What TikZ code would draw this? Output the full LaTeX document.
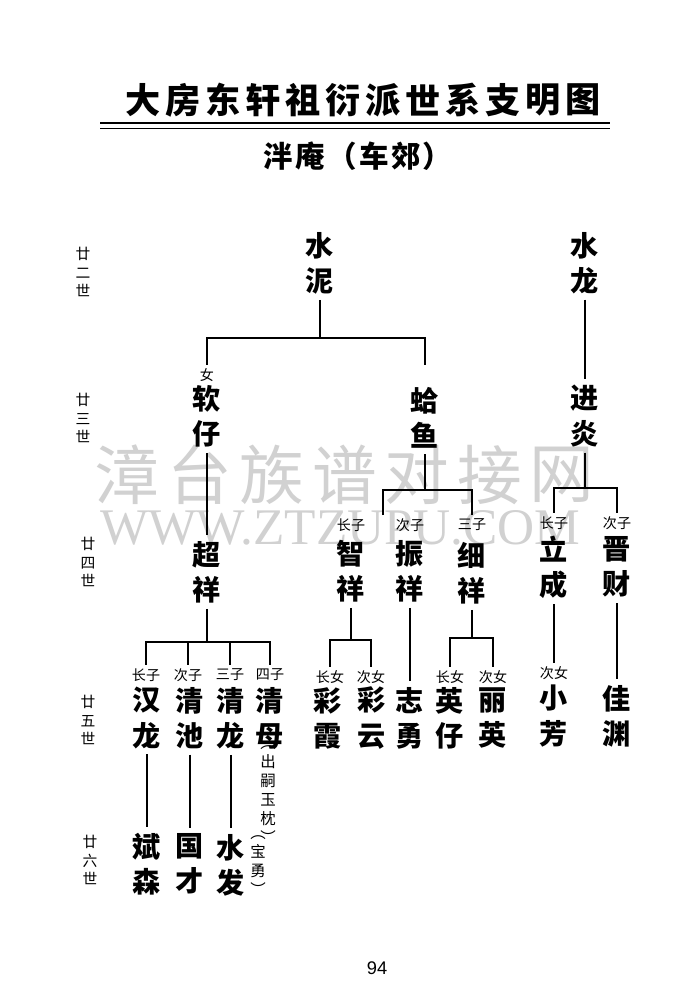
\documentclass[tikz,border=0pt]{standalone}
\usepackage{fontspec}
\setmainfont{Liberation Sans}
\newfontfamily\cjk{Noto Sans CJK SC}
\newfontfamily\wmserif{Liberation Serif}
\usetikzlibrary{positioning}

\begin{document}
\begin{tikzpicture}[
  x=0.025cm, y=-0.025cm,
  person/.style={font=\cjk\bfseries\fontsize{20}{25}\selectfont,
                 align=center, inner sep=4pt},
  rel/.style={font=\cjk\fontsize{10}{12}\selectfont, inner sep=2.5pt},
  gen/.style={font=\cjk\fontsize{10.5}{13}\selectfont, align=center, inner sep=0pt},
  note/.style={font=\cjk\fontsize{11}{13.5}\selectfont, align=center, inner sep=0pt},
  titlechar/.style={font=\cjk\bfseries\fontsize{25}{25}\selectfont, inner sep=0pt},
  link/.style={line width=0.9pt},
  wm/.style={text=black!18, inner sep=0pt}
]
\fill[white] (0,0) rectangle (680,1000);
\useasboundingbox (0,0) rectangle (680,1000);

% watermark
\foreach \ch [count=\i from 0] in {漳,台,族,谱,对,接,网}
  \node[wm, font=\cjk\fontsize{46}{46}\selectfont] (wm\i) at (127+72.5*\i,475) {\ch};
\node[wm, font=\wmserif\fontsize{36.5}{36.5}\selectfont] (wmurl) at (340,528) {WWW.ZTZUPU.COM};

% title
\foreach \ch [count=\i from 0] in {大,房,东,轩,祖,衍,派,世,系,支,明,图}
  \node[titlechar] (title\i) at (143+40*\i,100) {\ch};
\draw[line width=1.5pt] (100,123) -- (610,123);
\draw[line width=0.6pt] (100,128.5) -- (610,128.5);
\node[font=\cjk\bfseries\fontsize{21}{21}\selectfont\addfontfeature{LetterSpace=8}]
  (sub) at (358,156) {泮庵（车郊）};

% generations
\node[gen] (g22) at (83,272) {廿\\二\\世};
\node[gen] (g23) at (83,418) {廿\\三\\世};
\node[gen] (g24) at (88,562) {廿\\四\\世};
\node[gen] (g25) at (88,720) {廿\\五\\世};
\node[gen] (g26) at (90,860) {廿\\六\\世};

% 22 -- 23
\node[person] (shuini) at (320,263) {水\\泥};
\node[person] (shuilong) at (585,263) {水\\龙};
\node[rel] (lnv) at (207,375) {女};
\node[person] (ruanzai) at (207,416) {软\\仔};
\node[person] (geyu) at (425,418) {蛤\\鱼};
\node[person] (jinyan) at (585,416) {进\\炎};

\coordinate (snBar) at (320,338);
\coordinate (geyuTop) at (425,365);
\draw[link] (shuini.south) -- (snBar);
\draw[link] (lnv.north) |- (snBar) -| (geyuTop);
\draw[link] (shuilong.south) -- (jinyan.north);

% 24
\node[person] (chaoxiang) at (207,572) {超\\祥};
\node[rel] (lzx) at (351,525) {长子};
\node[person] (zhixiang) at (351,571) {智\\祥};
\node[rel] (lzh) at (410,525) {次子};
\node[person] (zhenxiang) at (410,571) {振\\祥};
\node[rel] (lxx) at (472,525) {三子};
\node[person] (xixiang) at (472,573) {细\\祥};
\node[rel] (llc) at (554,523) {长子};
\node[person] (licheng) at (554,567) {立\\成};
\node[rel] (ljc) at (617,523) {次子};
\node[person] (jincai) at (617,567) {晋\\财};

\draw[link] (ruanzai.south) -- (chaoxiang.north);
\coordinate (gyBar) at (425,490);
\coordinate (gyDrop) at (383,515);
\draw[link] (geyu.south) -- (gyBar);
\draw[link] (gyDrop) |- (gyBar) -| (lxx.north);
\coordinate (jyBar) at (585,488);
\draw[link] (jinyan.south) -- (jyBar);
\draw[link] (llc.north) |- (jyBar) -| (ljc.north);

% 25
\node[rel] (l25a) at (146,675) {长子};
\node[rel] (l25b) at (188,675) {次子};
\node[rel] (l25c) at (230,675) {三子};
\node[rel] (l25d) at (270,675) {四子};
\node[person] (hanlong) at (147,718) {汉\\龙};
\node[person] (qingchi) at (190,718) {清\\池};
\node[person] (qinglong) at (231,718) {清\\龙};
\node[person] (qingmu) at (270,718) {清\\母};
\node[note] (chusi) at (268,795) {︵\\出\\嗣\\玉\\枕\\︶};

\node[rel] (l25e) at (330,677) {长女};
\node[rel] (l25f) at (371,677) {次女};
\node[rel] (l25g) at (450,677) {长女};
\node[rel] (l25h) at (493,677) {次女};
\node[rel] (l25i) at (554,673) {次女};
\node[person] (caixia) at (328,718) {彩\\霞};
\node[person] (caiyun) at (372,718) {彩\\云};
\node[person] (zhiyong) at (410,718) {志\\勇};
\node[person] (yingzai) at (450,718) {英\\仔};
\node[person] (liying) at (493,718) {丽\\英};
\node[person] (xiaofang) at (554,716) {小\\芳};
\node[person] (jiayuan) at (617,716) {佳\\渊};

\coordinate (cxBar) at (207,642);
\draw[link] (chaoxiang.south) -- (cxBar);
\draw[link] (l25a.north) |- (cxBar) -| (l25d.north);
\draw[link] (l25b.north) -- (l25b.north |- cxBar);
\draw[link] (l25c.north) -- (l25c.north |- cxBar);
\coordinate (zxBar) at (351,640);
\draw[link] (zhixiang.south) -- (zxBar);
\draw[link] (l25e.north) |- (zxBar) -| (l25f.north);
\draw[link] (zhenxiang.south) -- (zhiyong.north);
\coordinate (xxBar) at (472,638);
\draw[link] (xixiang.south) -- (xxBar);
\draw[link] (l25g.north) |- (xxBar) -| (l25h.north);
\draw[link] (licheng.south) -- (l25i.north);
\draw[link] (jincai.south) -- (jiayuan.north);

% 26
\node[person] (binsen) at (147,864) {斌\\森};
\node[person] (guocai) at (190,864) {国\\才};
\node[person] (shuifa) at (231,865) {水\\发};
\node[note] (baoyong) at (258,866) {︵\\宝\\勇\\︶};
\draw[link] (hanlong.south) -- (binsen.north);
\draw[link] (qingchi.south) -- (guocai.north);
\draw[link] (qinglong.south) -- (shuifa.north);

% page
\node[font=\fontsize{13}{13}\selectfont] (page) at (377,968) {94};
\end{tikzpicture}
\end{document}
